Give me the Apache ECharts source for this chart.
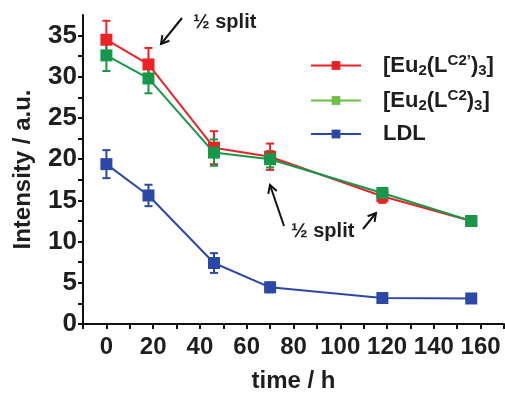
<!DOCTYPE html>
<html>
<head>
<meta charset="utf-8">
<script src="https://cdn.jsdelivr.net/npm/echarts@6/dist/echarts.min.js"></script>
<style>
  html, body { margin: 0; padding: 0; background: #fff; }
  #chart { width: 505px; height: 395px; }
</style>
</head>
<body>
<div id="chart"></div>
<script>
// time points (h)
var times = [0, 18, 46, 70, 118, 156];
// [Eu2(LC2')3]
var redVals = [34.5, 31.5, 21.4, 20.3, 15.5, 12.5];
var redErr = [2.3, 2.0, 2.0, 1.6, 0.8, 0.3];
// [Eu2(LC2)3]
var greenVals = [32.6, 29.8, 20.8, 20.0, 15.9, 12.5];
var greenErr = [1.9, 1.8, 1.6, 1.0, 0.5, 0.3];
// LDL
var blueVals = [19.4, 15.6, 7.4, 4.45, 3.15, 3.1];
var blueErr = [1.7, 1.3, 1.2, 0.6, 0.3, 0.3];

var xTickLabels = [0, 20, 40, 60, 80, 100, 120, 140, 160];
var yTickLabels = [0, 5, 10, 15, 20, 25, 30, 35];

var RED = '#ec2227';
var GREEN = '#16984a';
var GREEN_LEGEND = '#6cc04a';
var BLUE = '#2c48a6';
var FONT = 'Liberation Sans, Arial, sans-serif';
var TXT = '#1e1e1e';

function pts(vals) {
  return times.map(function (t, i) { return [t, vals[i]]; });
}
function errPts(vals, err) {
  return times.map(function (t, i) { return [t, vals[i] - err[i], vals[i] + err[i]]; });
}

function lineSeries(name, vals, color) {
  return {
    name: name,
    type: 'line',
    data: pts(vals),
    symbol: 'rect',
    symbolSize: 12,
    lineStyle: { color: color, width: 2 },
    itemStyle: { color: color },
    animation: false
  };
}

function errSeries(vals, err, color) {
  return {
    type: 'custom',
    data: errPts(vals, err),
    renderItem: function (params, api) {
      var lo = api.coord([api.value(0), api.value(1)]);
      var hi = api.coord([api.value(0), api.value(2)]);
      var w = 4;
      var st = { stroke: color, lineWidth: 2 };
      return {
        type: 'group',
        children: [
          { type: 'line', shape: { x1: lo[0], y1: lo[1], x2: hi[0], y2: hi[1] }, style: st },
          { type: 'line', shape: { x1: lo[0] - w, y1: lo[1], x2: lo[0] + w, y2: lo[1] }, style: st },
          { type: 'line', shape: { x1: hi[0] - w, y1: hi[1], x2: hi[0] + w, y2: hi[1] }, style: st }
        ]
      };
    },
    animation: false
  };
}

// arrow for "1/2 split" notes
function arrow(x1, y1, x2, y2) {
  var dx = x2 - x1, dy = y2 - y1;
  var len = Math.sqrt(dx * dx + dy * dy);
  dx /= len; dy /= len;
  var h = 9, a = Math.PI / 6;
  var w1 = [x2 - h * (Math.cos(a) * dx - Math.sin(a) * dy), y2 - h * (Math.sin(a) * dx + Math.cos(a) * dy)];
  var w2 = [x2 - h * (Math.cos(-a) * dx - Math.sin(-a) * dy), y2 - h * (Math.sin(-a) * dx + Math.cos(-a) * dy)];
  return [
    { type: 'line', shape: { x1: x1, y1: y1, x2: x2, y2: y2 }, style: { stroke: '#111', lineWidth: 2 } },
    { type: 'polyline', shape: { points: [w1, [x2, y2], w2] }, style: { stroke: '#111', lineWidth: 2, fill: null } }
  ];
}

function note(x, y) {
  return {
    type: 'text', left: x, top: y,
    style: { text: '½ split', font: 'bold 20px ' + FONT, fill: TXT }
  };
}

var legendText = {
  'Eu2LC2p': '{b|[Eu}{sub|2}{b|(L}{sup|C2\u2019}{b|)}{sub|3}{b|]}',
  'Eu2LC2': '{b|[Eu}{sub|2}{b|(L}{sup|C2}{b|)}{sub|3}{b|]}',
  'LDL': '{b|LDL}'
};

var chart = echarts.init(document.getElementById('chart'));
chart.setOption({
  backgroundColor: '#fff',
  animation: false,
  grid: { left: 83, right: 1, top: 15, bottom: 71, outerBoundsMode: 'none' },
  legend: {
    orient: 'vertical',
    left: 305,
    top: 48,
    itemWidth: 50,
    itemHeight: 11,
    itemGap: 10,
    data: [
      { name: 'Eu2LC2p' },
      { name: 'Eu2LC2', itemStyle: { color: GREEN_LEGEND }, lineStyle: { color: GREEN_LEGEND } },
      { name: 'LDL' }
    ],
    formatter: function (n) { return legendText[n]; },
    textStyle: {
      padding: [0, 0, 0, 17],
      rich: {
        b: { fontSize: 22, fontWeight: 'bold', fontFamily: FONT, color: TXT, lineHeight: 24 },
        sub: { fontSize: 15, fontWeight: 'bold', fontFamily: FONT, color: TXT, padding: [10, 0, 0, 0] },
        sup: { fontSize: 15, fontWeight: 'bold', fontFamily: FONT, color: TXT, padding: [0, 0, 10, 0] }
      }
    }
  },
  xAxis: {
    type: 'value',
    min: -10,
    max: 170,
    interval: 10,
    name: 'time / h',
    nameLocation: 'middle',
    nameGap: 45,
    nameTextStyle: { fontSize: 24, fontWeight: 'bold', fontFamily: FONT, color: TXT },
    splitLine: { show: false },
    axisLine: { onZero: false, lineStyle: { color: '#111', width: 2 } },
    axisTick: { inside: false, length: 5, lineStyle: { color: '#111', width: 2 } },
    axisLabel: {
      margin: 11,
      fontSize: 24, fontWeight: 'bold', fontFamily: FONT, color: TXT,
      formatter: function (v) { return xTickLabels.indexOf(v) >= 0 ? String(v) : ''; }
    }
  },
  yAxis: {
    type: 'value',
    min: 0,
    max: 37.5,
    interval: 2.5,
    name: 'Intensity / a.u.',
    nameLocation: 'middle',
    nameGap: 48,
    nameTextStyle: { fontSize: 24, fontWeight: 'bold', fontFamily: FONT, color: TXT },
    splitLine: { show: false },
    axisLine: { show: true, onZero: false, lineStyle: { color: '#111', width: 2 } },
    axisTick: { show: true, length: 5, lineStyle: { color: '#111', width: 2 } },
    axisLabel: {
      margin: 6,
      fontSize: 26, fontWeight: 'bold', fontFamily: FONT, color: TXT,
      showMaxLabel: false,
      formatter: function (v) { return yTickLabels.indexOf(v) >= 0 ? String(v) : ''; }
    }
  },
  series: [
    lineSeries('Eu2LC2p', redVals, RED),
    errSeries(redVals, redErr, RED),
    lineSeries('Eu2LC2', greenVals, GREEN),
    errSeries(greenVals, greenErr, GREEN),
    lineSeries('LDL', blueVals, BLUE),
    errSeries(blueVals, blueErr, BLUE)
  ],
  graphic: [].concat(
    arrow(182, 18, 161, 44),
    arrow(284, 226, 270, 185),
    arrow(363, 229, 376, 213),
    [note(193, 12), note(291, 221)]
  )
});
</script>
</body>
</html>
